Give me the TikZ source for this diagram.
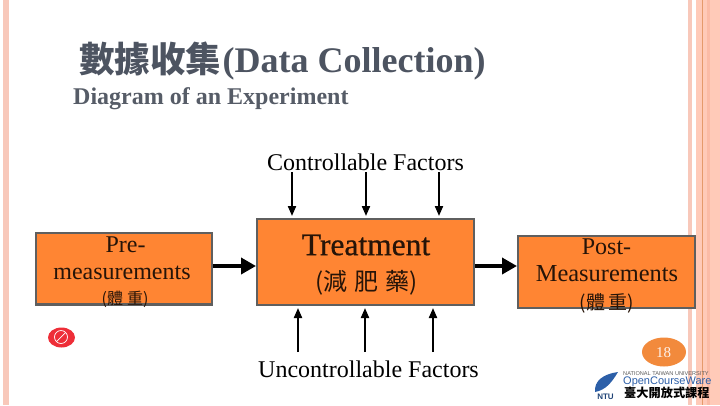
\documentclass[tikz,border=0pt]{standalone}
\usepackage{fontspec}
\setmainfont{Liberation Serif}
\newfontfamily\semiserif[FakeBold=0.6]{Liberation Serif}
\newfontfamily\cjk{Noto Sans CJK TC}
\newfontfamily\ocwsans{Liberation Sans}
\usetikzlibrary{arrows.meta}
\definecolor{stripeA}{HTML}{F8C8BA}
\definecolor{stripeB}{HTML}{FFCAB8}
\definecolor{stripeC}{HTML}{FBBBA6}
\definecolor{stripeD}{HTML}{E59A6B}
\definecolor{boxfill}{HTML}{FF8533}
\definecolor{boxedge}{HTML}{5F5F5F}
\definecolor{titlegray}{HTML}{4D5461}
\definecolor{subgray}{HTML}{565C67}
\definecolor{badge}{HTML}{F28A3C}
\definecolor{ocwblue}{HTML}{2C5FA8}
\definecolor{stopred}{HTML}{EE2E38}
\tikzset{
  procbox/.style={draw=boxedge,line width=2.4pt,fill=boxfill,inner sep=0pt,anchor=north west},
  flow/.style={line width=3.6pt,-{Triangle[length=15pt,width=16pt]}},
  factor/.style={line width=2pt,-{Triangle[length=10pt,width=8pt]}},
  boxtext/.style={anchor=center,inner sep=0pt,align=center,text=black!85!boxfill},
  plain/.style={anchor=base west,inner sep=0pt},
}
\begin{document}
\begin{tikzpicture}[x=1pt,y=-1pt]
\useasboundingbox (0,0) rectangle (720,405);
% slide stripes
\fill[stripeA] (3.3,0) rectangle (9.3,405);
\fill[stripeA] (688,0) rectangle (692,405);
\fill[stripeB] (696,0) rectangle (720,405);
\fill[stripeD] (702,0) rectangle (703.2,405);
\fill[stripeC] (707,0) rectangle (710,405);
% title
\node[plain,text=titlegray] (title) at (79,72) {{\cjk\bfseries\fontsize{35.5}{35.5}\selectfont 數據收集}};
\node[plain,text=titlegray,font=\bfseries\fontsize{36}{36}\selectfont] (titleen) at (222.5,72) {(Data Collection)};
\node[plain,text=subgray,font=\bfseries\fontsize{24}{24}\selectfont] (subtitle) at (73,104) {Diagram of an Experiment};
% boxes
\node[procbox,minimum width=175.6pt,minimum height=71.2pt] (pre) at (35,232) {};
\node[procbox,minimum width=216.6pt,minimum height=85.6pt] (treat) at (256,218) {};
\node[procbox,minimum width=176.6pt,minimum height=71.6pt] (post) at (517,235) {};
% box text
\node[boxtext,font=\fontsize{24}{24}\selectfont] (pre1) at (125.5,245) {Pre-};
\node[boxtext,font=\fontsize{24}{24}\selectfont] (pre2) at (122,273) {measurements};
\node[boxtext,font=\cjk\fontsize{16}{16}\selectfont] (pre3) at (125,299) {(體\hspace{4pt}重)};
\node[boxtext,font=\semiserif\fontsize{31.5}{31.5}\selectfont] (tr1) at (366,245) {Treatment};
\node[boxtext,font=\cjk\fontsize{24}{24}\selectfont] (tr2) at (366.5,283) {(減\hspace{7pt}肥\hspace{7pt}藥)};
\node[boxtext,font=\fontsize{24}{24}\selectfont] (po1) at (606.5,247) {Post-};
\node[boxtext,font=\fontsize{24.4}{24.4}\selectfont] (po2) at (607,274) {Measurements};
\node[boxtext,font=\cjk\fontsize{19}{19}\selectfont] (po3) at (607,303) {(體\hspace{4pt}重)};
% factor labels
\node[plain,font=\fontsize{24}{24}\selectfont] (ctrl) at (267,170) {Controllable Factors};
\node[plain,font=\fontsize{24}{24}\selectfont] (unctrl) at (258,377) {Uncontrollable Factors};
% flow arrows
\draw[flow] (pre.east |- 0,266) -- (treat.west |- 0,266);
\draw[flow] (treat.east |- 0,266) -- (post.west |- 0,266);
% free ends
\coordinate (c1) at (292,172);
\coordinate (c2) at (366,172);
\coordinate (c3) at (439,172);
\coordinate (c1e) at (292,216);
\coordinate (c2e) at (366,216);
\coordinate (c3e) at (439,216);
\coordinate (u1) at (298,352);
\coordinate (u2) at (365,352);
\coordinate (u3) at (433,352);
\coordinate (u1e) at (298,308);
\coordinate (u2e) at (365,308);
\coordinate (u3e) at (433,308);
\draw[factor] (c1) -- (c1e);
\draw[factor] (c2) -- (c2e);
\draw[factor] (c3) -- (c3e);
\draw[factor] (u1) -- (u1e);
\draw[factor] (u2) -- (u2e);
\draw[factor] (u3) -- (u3e);
% stop icon
\fill[stopred] (61.5,337.5) ellipse [x radius=13.5,y radius=10];
\draw[white,line width=.7pt] (61,337) circle (6.5);
\draw[white,line width=.7pt] (56.5,341.5) -- (65.5,332.5);
% page badge
\fill[badge] (664,352) ellipse [x radius=22,y radius=14.5];
\node[anchor=center,inner sep=0pt,text=white!90!badge,font=\fontsize{15}{15}\selectfont] (page) at (663.5,353) {18};
% logo
\fill[ocwblue] (595,392) .. controls (594,381) and (603,374) .. (618,372) .. controls (612,382) and (606,390) .. (595,392) -- cycle;
\node[anchor=center,inner sep=0pt,text=ocwblue!70!black,font=\ocwsans\bfseries\fontsize{8}{8}\selectfont] (ntu) at (605.5,396.5) {NTU};
\node[plain,text=black!65,font=\ocwsans\fontsize{5.6}{5.6}\selectfont] (univ) at (623,375.5) {NATIONAL TAIWAN UNIVERSITY};
\node[plain,text=ocwblue,font=\ocwsans\fontsize{11}{11}\selectfont] (ocw) at (623,384) {OpenCourseWare};
\node[plain,text=black,font=\cjk\bfseries\fontsize{12.2}{12.2}\selectfont] (ocwzh) at (624,397.5) {臺大開放式課程};
\end{tikzpicture}
\end{document}
